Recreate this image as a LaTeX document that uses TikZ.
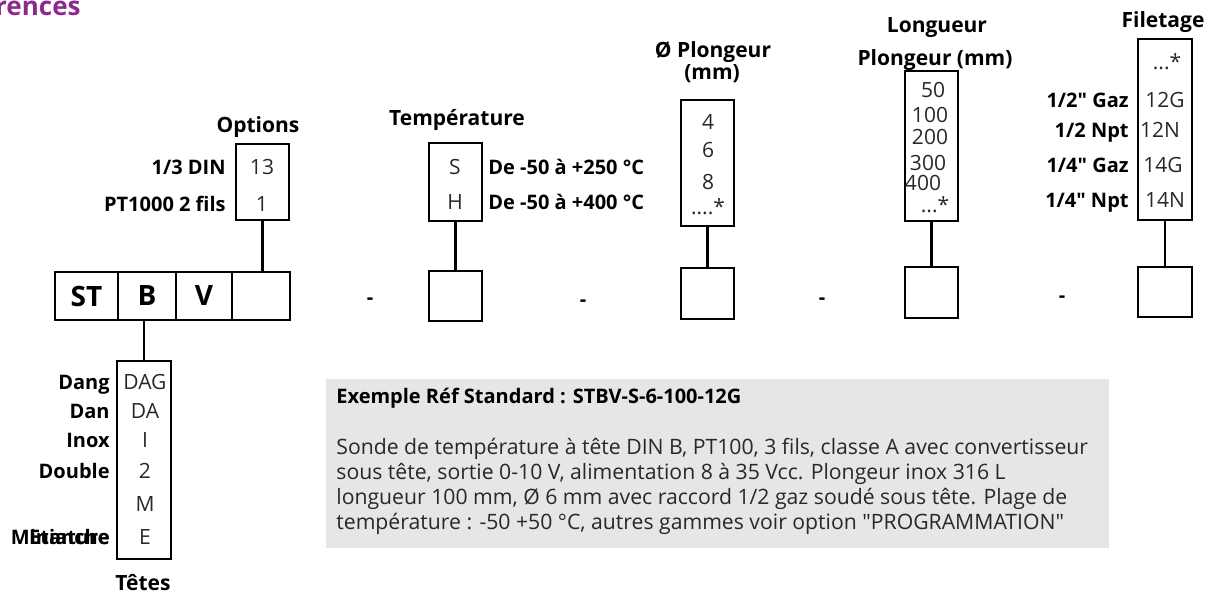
\documentclass[tikz,border=0pt]{standalone}
\usepackage{fontspec}
\setmainfont{Open Sans}[Ligatures=TeXOff]
\usetikzlibrary{positioning}
\definecolor{refpurple}{RGB}{139,42,140}
\definecolor{boxgray}{RGB}{230,230,230}
\definecolor{entrygray}{RGB}{40,40,40}

\begin{document}
\begin{tikzpicture}[x=0.5pt, y=-0.5pt,
    codebox/.style={draw, line width=1.4pt, inner sep=0pt, outer sep=0pt,
        anchor=north west, minimum width=26.5pt},
    cell/.style={draw, line width=1.4pt, inner sep=0pt, outer sep=0pt,
        minimum height=24pt, font=\fontsize{14}{16}\selectfont\bfseries},
    entry/.style={inner sep=0pt, text height=7.3pt, text depth=0pt,
        text=entrygray, font=\fontsize{10.5}{12}\selectfont},
    lbl/.style={inner sep=0pt, text height=7.2pt, text depth=0pt,
        font=\fontsize{10}{12}\selectfont\bfseries},
    head/.style={inner sep=0pt, text height=7.8pt, text depth=0pt,
        font=\fontsize{10.5}{13}\selectfont\bfseries},
    link/.style={line width=1.2pt},
    body/.style={anchor=base west, inner sep=0pt, font=\fontsize{10.6}{12}\selectfont}]

    \useasboundingbox (0,0) rectangle (1206,595);
    \clip (0,0) rectangle (1206,595);

    \node[anchor=base east, inner sep=0pt, text=refpurple,
        font=\fontsize{13}{15}\selectfont\bfseries] (titre) at (81,15) {Références};

    % main reference row
    \node[cell, minimum width=31.5pt, anchor=west] (st) at (55,296) {ST};
    \node[cell, minimum width=29pt, right=0pt of st] (tete) {B};
    \node[cell, minimum width=28pt, right=0pt of tete] (conv) {V};
    \node[cell, minimum width=29pt, right=0pt of conv] (opt) {};

    % options
    \node[head] (optionsT) at (258,125) {Options};
    \node[codebox, minimum height=38pt] (options) at (236,144) {};
    \foreach \y/\t in {167/13, 204/1}
        \node[entry] at (262,\y) {\t};
    \foreach \y/\t in {167/{1/3 DIN}, 204/{PT1000 2 fils}}
        \node[lbl, anchor=east] at (226,\y) {\t};
    \draw[link] (options.south) -- (options.south |- opt.north);

    % tetes
    \node[codebox, minimum width=27pt, minimum height=99pt] (tetes) at (117,361) {};
    \foreach \y/\t in {382/DAG, 411/DA, 440/I, 471/2, 504/M, 537/E}
        \node[entry] at (145,\y) {\t};
    \foreach \y/\t in {382/Dang, 411/Dan, 440/Inox, 471/Double, 537/Miniature, 537/Etanche}
        \node[lbl, anchor=east] at (110,\y) {\t};
    \node[head] (tetesT) at (143,583) {Têtes};
    \draw[link] (tetes.north) -- (tetes.north |- tete.south);

    % temperature
    \node[head] (tempT) at (457,118) {Température};
    \node[codebox, minimum height=39pt] (temp) at (429,143) {};
    \foreach \y/\t in {167/S, 202/H}
        \node[entry] at (455,\y) {\t};
    \foreach \y/\t in {167/{De -50 à +250 °C}, 202/{De -50 à +400 °C}}
        \node[lbl, anchor=west] at (488,\y) {\t};
    \node[codebox, minimum height=25pt] (tempB) at (429,271) {};
    \draw[link] (temp.south) -- (tempB.north);

    % diametre plongeur
    \node[head] (diamT) at (713,50) {Ø Plongeur};
    \node[head] (diamU) at (712,72) {(mm)};
    \node[codebox, minimum height=63pt] (diam) at (681,100) {};
    \foreach \y/\t in {122/4, 150/6, 182/8, 207/{....*}}
        \node[entry] at (708,\y) {\t};
    \node[codebox, minimum height=25.5pt] (diamB) at (681,268) {};
    \draw[link] (diam.south) -- (diamB.north);

    % longueur plongeur
    \node[head] (longT) at (937,25) {Longueur};
    \node[head] (longU) at (935,58) {Plongeur (mm)};
    \node[codebox, minimum height=75pt] (long) at (905,71) {};
    \foreach \x/\y/\t in {933/90/50, 930/115/100, 930/137/200, 928/163/300, 923/183/400, 935/205/{...*}}
        \node[entry] at (\x,\y) {\t};
    \node[codebox, minimum height=25.5pt] (longB) at (905,267) {};
    \draw[link] (long.south) -- (longB.north);

    % filetage
    \node[head] (filT) at (1163,20) {Filetage};
    \node[codebox, minimum width=27pt, minimum height=90.5pt] (fil) at (1138,39) {};
    \foreach \x/\y/\t in {1167/62/{...*}, 1165/100/12G, 1160/130/12N, 1163/165/14G, 1165/200/14N}
        \node[entry] at (\x,\y) {\t};
    \foreach \y/\t in {100/{1/2" Gaz}, 130/{1/2 Npt}, 165/{1/4" Gaz}, 200/{1/4" Npt}}
        \node[lbl, anchor=east] at (1129,\y) {\t};
    \node[codebox, minimum width=27pt, minimum height=25pt] (filB) at (1138,267) {};
    \draw[link] (fil.south) -- (filB.north);

    % separators
    \foreach \x/\y [count=\i] in {370/297, 583/299, 822/297, 1062/295}
        \node[lbl] (sep\i) at (\x,\y) {-};

    % exemple
    \node[fill=boxgray, anchor=north west, inner sep=0pt,
        minimum width=391.5pt, minimum height=84.5pt] (exemple) at (326,379) {};
    \node[body, font=\fontsize{10}{12}\selectfont\bfseries] (exempleT) at (336,403)
        {Exemple Réf Standard : STBV-S-6-100-12G};
    \foreach \y/\t in {454/{Sonde de température à tête DIN B, PT100, 3 fils, classe A avec convertisseur},
        479/{sous tête, sortie 0-10 V, alimentation 8 à 35 Vcc. Plongeur inox 316 L},
        504/{longueur 100 mm, Ø 6 mm avec raccord 1/2 gaz soudé sous tête. Plage de},
        529/{température : -50 +50 °C, autres gammes voir option "PROGRAMMATION"}}
        \node[body, text=entrygray] at (336,\y) {\t};
\end{tikzpicture}
\end{document}
